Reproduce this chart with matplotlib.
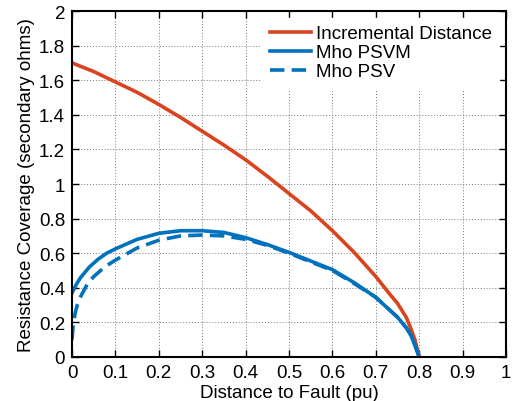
import numpy as np
import matplotlib
matplotlib.use("Agg")
import matplotlib.pyplot as plt

plt.rcParams["font.family"] = ["Liberation Sans", "DejaVu Sans"]

# values
incr_x = [0.0, 0.05, 0.1, 0.15, 0.2, 0.25, 0.3, 0.35, 0.4, 0.45, 0.5, 0.55,
          0.6, 0.65, 0.7, 0.73, 0.75, 0.77, 0.78, 0.79, 0.8]
incr_y = [1.70, 1.65, 1.59, 1.53, 1.46, 1.385, 1.305, 1.225, 1.14, 1.045,
          0.945, 0.845, 0.73, 0.605, 0.465, 0.37, 0.31, 0.23, 0.17, 0.10, 0.0]

psvm_x = [0.0, 0.01, 0.02, 0.04, 0.06, 0.08, 0.1, 0.15, 0.2, 0.25, 0.3, 0.35,
          0.4, 0.45, 0.5, 0.55, 0.6, 0.65, 0.7, 0.75, 0.77, 0.78, 0.79, 0.8]
psvm_y = [0.37, 0.42, 0.46, 0.52, 0.565, 0.60, 0.625, 0.68, 0.715, 0.73,
          0.73, 0.72, 0.69, 0.65, 0.605, 0.555, 0.505, 0.43, 0.345, 0.23,
          0.17, 0.13, 0.07, 0.0]

psv_x = [0.0, 0.003, 0.007, 0.012, 0.02, 0.035, 0.05, 0.075, 0.1, 0.15, 0.2,
         0.25, 0.3, 0.35, 0.4, 0.45, 0.5, 0.55, 0.6, 0.65, 0.7, 0.75, 0.77,
         0.78, 0.79, 0.8]
psv_y = [0.10, 0.19, 0.25, 0.30, 0.35, 0.42, 0.465, 0.52, 0.56, 0.63, 0.675,
         0.70, 0.705, 0.70, 0.68, 0.645, 0.60, 0.55, 0.50, 0.425, 0.345,
         0.23, 0.17, 0.13, 0.07, 0.0]

x_ticks = np.arange(0, 1.01, 0.1)
x_labels = ["0", "0.1", "0.2", "0.3", "0.4", "0.5", "0.6", "0.7", "0.8", "0.9", "1"]
y_ticks = np.arange(0, 2.01, 0.2)
y_labels = ["0", "0.2", "0.4", "0.6", "0.8", "1", "1.2", "1.4", "1.6", "1.8", "2"]

red = "#D9441F"
blue = "#0072BD"

fig = plt.figure(figsize=(5.26, 4.02), dpi=100)
ax = fig.add_axes([72 / 526, 44 / 402, 434 / 526, 346 / 402])

ax.plot(incr_x, incr_y, color=red, lw=2.6, label="Incremental Distance")
ax.plot(psvm_x, psvm_y, color=blue, lw=2.6, label="Mho PSVM")
ax.plot(psv_x, psv_y, color=blue, lw=2.6, ls=(0, (4, 2)), label="Mho PSV")

ax.set_xlim(0, 1)
ax.set_ylim(0, 2)
ax.set_xticks(x_ticks)
ax.set_xticklabels(x_labels)
ax.set_yticks(y_ticks)
ax.set_yticklabels(y_labels)
ax.tick_params(direction="in", top=True, right=True, length=5, width=1,
               labelsize=13.5, pad=5)
ax.grid(True, color="#777777", ls=(0, (1, 2)), lw=0.7)
for s in ax.spines.values():
    s.set_linewidth(1.5)

ax.set_xlabel("Distance to Fault (pu)", fontsize=13.5, labelpad=2)
ax.set_ylabel("Resistance Coverage (secondary ohms)", fontsize=13.5, labelpad=3)

leg = ax.legend(loc="upper right", fontsize=13.5, frameon=True, fancybox=False,
                edgecolor="white", facecolor="white", framealpha=1,
                handlelength=2.2, handletextpad=0.25, labelspacing=0.1,
                borderpad=0.4, borderaxespad=0.35)

fig.savefig("out.png", dpi=100)
